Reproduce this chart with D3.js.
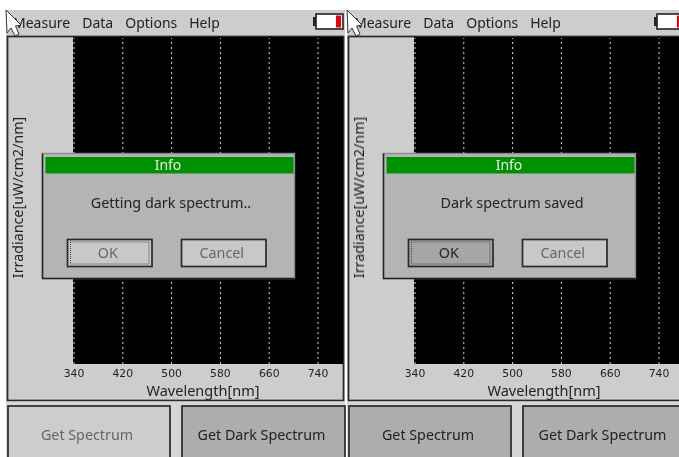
<!DOCTYPE html>
<html>
<head>
<meta charset="utf-8">
<title>Spectrometer screens</title>
<script src="https://d3js.org/d3.v7.min.js"></script>
<style>
  html, body { margin: 0; padding: 0; background: #fff; }
  svg { display: block; font-family: "Noto Sans", sans-serif; }
  .grid line { stroke: #d8d8d8; stroke-width: 1; stroke-dasharray: 2 3; }
  .grid path { display: none; }
  .grid text { fill: #222; font-size: 10.8px; font-family: "DejaVu Sans", sans-serif; }
</style>
</head>
<body>
<svg width="679" height="457"></svg>
<script>
// values
var wavelengths = [340, 420, 500, 580, 660, 740];
var menuItems = ["Measure", "Data", "Options", "Help"];
var panelOffsets = [0, 341];
var dialogMessages = ["Getting dark spectrum..", "Dark spectrum saved"];
var okEnabled = [false, true];
var getSpectrumEnabled = [false, true];
var xLabel = "Wavelength[nm]";
var yLabel = "Irradiance[uW/cm2/nm]";

var svg = d3.select("svg");

var defs = svg.append("defs");
defs.append("filter").attr("id", "soft")
    .append("feGaussianBlur").attr("stdDeviation", 0.45);

var root = svg.append("g").attr("filter", "url(#soft)");

var xScale = d3.scaleLinear().domain([340, 740]).range([73.5, 317.5]);

function button(g, x, y, w, h, label, fill, textFill) {
    g.append("rect").attr("x", x).attr("y", y).attr("width", w).attr("height", h)
     .attr("fill", fill).attr("stroke", "#2a2a2a").attr("stroke-width", 1.7);
    g.append("text").attr("x", x + w / 2 - 2).attr("y", y + h / 2 + 5)
     .attr("text-anchor", "middle").attr("font-size", 14.3).attr("fill", textFill).text(label);
}

panelOffsets.forEach(function(dx, i) {
    var g = root.append("g").attr("transform", "translate(" + dx + ",0)");

    // body of the screen
    g.append("rect").attr("x", 6).attr("y", 10).attr("width", 339).attr("height", 447).attr("fill", "#cdcdcd");

    // menu bar
    var menuX = 13;
    menuItems.forEach(function(m) {
        var t = g.append("text").attr("x", menuX).attr("y", 28).attr("font-size", 14).attr("fill", "#222").text(m);
        menuX += t.node().getComputedTextLength() + 12;
    });

    // battery
    g.append("rect").attr("x", 316).attr("y", 14).attr("width", 27).attr("height", 15)
     .attr("fill", "#fff").attr("stroke", "#222").attr("stroke-width", 1.6);
    g.append("rect").attr("x", 313).attr("y", 17).attr("width", 3).attr("height", 9).attr("fill", "#222");
    g.append("rect").attr("x", 336).attr("y", 15.5).attr("width", 5).attr("height", 12).attr("fill", "#e8000f");

    // frame round the plot
    g.append("rect").attr("x", 7.5).attr("y", 36.5).attr("width", 336).attr("height", 364)
     .attr("fill", "#cdcdcd").attr("stroke", "#2a2a2a").attr("stroke-width", 1.7);

    // plot area
    g.append("rect").attr("x", 73).attr("y", 37).attr("width", 270).attr("height", 327).attr("fill", "#000");

    g.append("g").attr("class", "grid")
     .attr("transform", "translate(0,364)")
     .call(d3.axisBottom(xScale).tickValues(wavelengths).tickSize(-326).tickPadding(5));

    g.append("text").attr("x", 203).attr("y", 396).attr("text-anchor", "middle")
     .attr("font-size", 14.5).attr("fill", "#222").text(xLabel);

    g.append("text").attr("transform", "translate(23,197.5) rotate(-90)").attr("text-anchor", "middle")
     .attr("font-size", 14.3).attr("fill", "#222").text(yLabel);

    // strip under the frame
    g.append("rect").attr("x", 6).attr("y", 401.5).attr("width", 339).attr("height", 56).attr("fill", "#d6d6d6");

    // bottom buttons
    button(g, 8, 406, 162, 58, "Get Spectrum", getSpectrumEnabled[i] ? "#adadad" : "#cdcdcd",
           getSpectrumEnabled[i] ? "#222" : "#666");
    button(g, 182, 406, 163, 58, "Get Dark Spectrum", "#adadad", "#222");

    // dialog, dark on the left and bottom, lighter on the top and right
    g.append("rect").attr("x", 42.5).attr("y", 153.5).attr("width", 252).attr("height", 125)
     .attr("fill", "#b4b4b4").attr("stroke", "#8a8a8a").attr("stroke-width", 1.4);
    g.append("path").attr("d", "M42.5,153.5 V278.5 H294.5")
     .attr("fill", "none").attr("stroke", "#222").attr("stroke-width", 1.5);
    g.append("rect").attr("x", 45.5).attr("y", 157).attr("width", 248).attr("height", 16.5).attr("fill", "#009100");
    g.append("text").attr("x", 168).attr("y", 170).attr("text-anchor", "middle")
     .attr("font-size", 14).attr("fill", "#e8f5e8").text("Info");
    g.append("text").attr("x", 171).attr("y", 208).attr("text-anchor", "middle")
     .attr("font-size", 14.4).attr("fill", "#222").text(dialogMessages[i]);

    button(g, 67.5, 239.5, 84.5, 27, "OK", okEnabled[i] ? "#a6a6a6" : "#c8c8c8", okEnabled[i] ? "#222" : "#666");
    g.append("rect").attr("x", 70.5).attr("y", 242).attr("width", 78.5).attr("height", 22)
     .attr("fill", "none").attr("stroke", "#444").attr("stroke-dasharray", "1 1");
    button(g, 181.5, 239.5, 84.5, 27, "Cancel", "#c8c8c8", "#666");

    // mouse pointer
    g.append("path").attr("d", "M6,10 L7,33 L11,28 L15,36 L19,34 L15.5,26 L21,25 Z")
     .attr("fill", "#fff").attr("stroke", "#333").attr("stroke-width", 1);
});
</script>
</body>
</html>
